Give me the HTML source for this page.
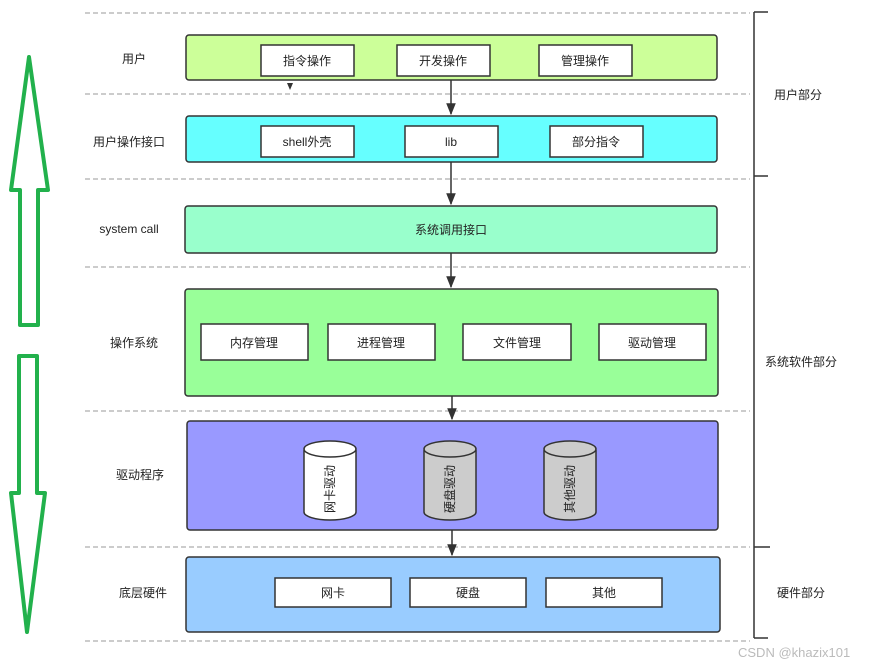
<!DOCTYPE html>
<html><head><meta charset="utf-8"><style>
body{margin:0;background:#fff;width:879px;height:667px;overflow:hidden}
svg text{font-family:"Liberation Sans","Noto Sans CJK SC",sans-serif;font-size:12px;fill:#222}
</style></head><body>
<svg width="879" height="667" xmlns="http://www.w3.org/2000/svg">
<defs><marker id="a" viewBox="0 0 10 10" refX="9" refY="5" markerWidth="8" markerHeight="8" orient="auto"><path d="M0,1 L10,5 L0,9z" fill="#333"/></marker></defs>
<g stroke="#999" stroke-dasharray="5,3" stroke-width="1">
<line x1="85" y1="13" x2="750" y2="13"/><line x1="85" y1="94" x2="750" y2="94"/><line x1="85" y1="179" x2="750" y2="179"/><line x1="85" y1="267" x2="750" y2="267"/><line x1="85" y1="411" x2="750" y2="411"/><line x1="85" y1="547" x2="750" y2="547"/><line x1="85" y1="641" x2="750" y2="641"/>
</g>
<g stroke="#333" stroke-width="1.5" fill="none">
<path d="M754,12 V638 M754,12 H768 M754,176 H768 M754,547 H770 M754,638 H768"/>
</g>
<g stroke="#22b14c" stroke-width="4" fill="none" stroke-linejoin="round">
<path d="M29,57 L48,190 L38,190 L38,325 L20,325 L20,190 L11,190 Z"/>
<path d="M19,356 L37,356 L37,493 L45,493 L27,632 L11,493 L19,493 Z"/>
</g>
<g stroke="#333" stroke-width="1.5">
<rect x="186" y="35" width="531" height="45" rx="3" fill="#ccff99"/>
<rect x="186" y="116" width="531" height="46" rx="3" fill="#66ffff"/>
<rect x="185" y="206" width="532" height="47" rx="3" fill="#99ffcc"/>
<rect x="185" y="289" width="533" height="107" rx="3" fill="#99ff99"/>
<rect x="187" y="421" width="531" height="109" rx="3" fill="#9999ff"/>
<rect x="186" y="557" width="534" height="75" rx="3" fill="#99ccff"/>
<g fill="#fff">
<rect x="261" y="45" width="93" height="31"/><rect x="397" y="45" width="93" height="31"/><rect x="539" y="45" width="93" height="31"/>
<rect x="261" y="126" width="93" height="31"/><rect x="405" y="126" width="93" height="31"/><rect x="550" y="126" width="93" height="31"/>
<rect x="201" y="324" width="107" height="36"/><rect x="328" y="324" width="107" height="36"/><rect x="463" y="324" width="108" height="36"/><rect x="599" y="324" width="107" height="36"/>
<rect x="275" y="578" width="116" height="29"/><rect x="410" y="578" width="116" height="29"/><rect x="546" y="578" width="116" height="29"/>
</g>
<path d="M304,450 V512 A26,8 0 0 0 356,512 V450" fill="#fff"/><ellipse cx="330" cy="449" rx="26" ry="8" fill="#fff"/>
<path d="M424,450 V512 A26,8 0 0 0 476,512 V450" fill="#ccc"/><ellipse cx="450" cy="449" rx="26" ry="8" fill="#ccc"/>
<path d="M544,450 V512 A26,8 0 0 0 596,512 V450" fill="#ccc"/><ellipse cx="570" cy="449" rx="26" ry="8" fill="#ccc"/>
<line x1="451" y1="80" x2="451" y2="114" marker-end="url(#a)"/>
<line x1="451" y1="162" x2="451" y2="204" marker-end="url(#a)"/>
<line x1="451" y1="253" x2="451" y2="287" marker-end="url(#a)"/>
<line x1="452" y1="396" x2="452" y2="419" marker-end="url(#a)"/>
<line x1="452" y1="530" x2="452" y2="555" marker-end="url(#a)"/>
</g>
<path d="M287,83 L293,83 L290,90Z" fill="#333"/>
<g text-anchor="middle">
<text x="134" y="63">用户</text><text x="129" y="146">用户操作接口</text><text x="129" y="233">system call</text>
<text x="134" y="347">操作系统</text><text x="140" y="479">驱动程序</text><text x="143" y="597">底层硬件</text>
<text x="307" y="65">指令操作</text><text x="443" y="65">开发操作</text><text x="585" y="65">管理操作</text>
<text x="307" y="146">shell外壳</text><text x="451" y="146">lib</text><text x="596" y="146">部分指令</text>
<text x="451" y="234">系统调用接口</text>
<text x="254" y="347">内存管理</text><text x="381" y="347">进程管理</text><text x="517" y="347">文件管理</text><text x="652" y="347">驱动管理</text>
<text x="333" y="597">网卡</text><text x="468" y="597">硬盘</text><text x="604" y="597">其他</text>
<text x="798" y="99">用户部分</text><text x="801" y="366">系统软件部分</text><text x="801" y="597">硬件部分</text>
<text transform="translate(334,489) rotate(-90)">网卡驱动</text>
<text transform="translate(454,489) rotate(-90)">硬盘驱动</text>
<text transform="translate(574,489) rotate(-90)">其他驱动</text>
</g>
<text x="738" y="657" style="font-size:13px;fill:#bbb">CSDN @khazix101</text>
</svg>
</body></html>
